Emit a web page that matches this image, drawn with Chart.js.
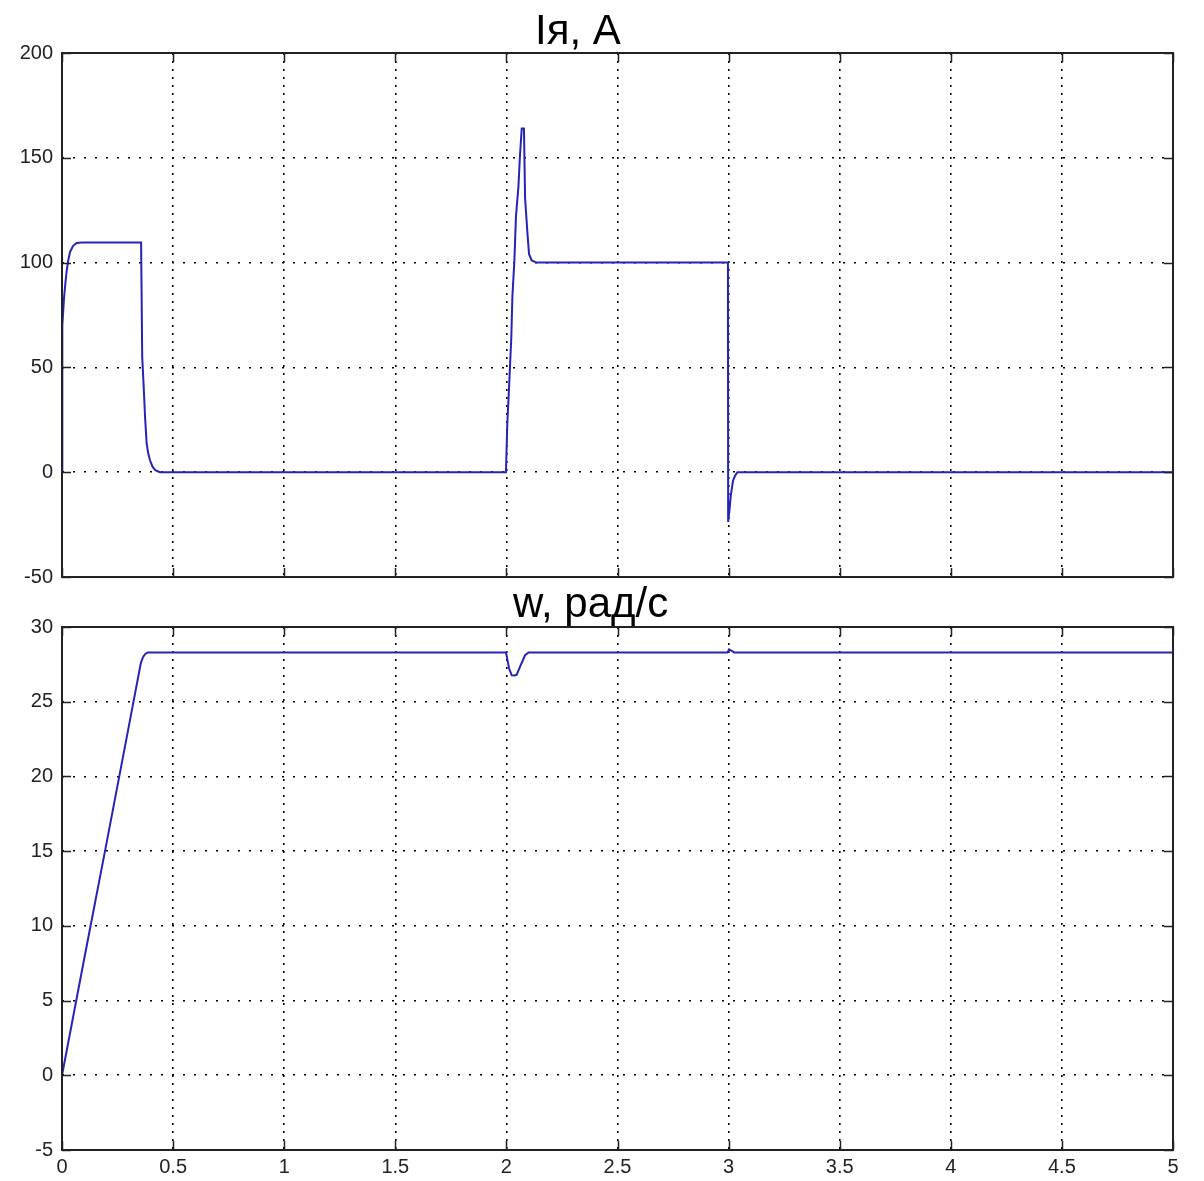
<!DOCTYPE html>
<html>
<head>
<meta charset="utf-8">
<script src="https://cdn.jsdelivr.net/npm/chart.js@4.4.0/dist/chart.umd.min.js"></script>
<style>
  body { margin: 0; background: #fff; }
  canvas { position: absolute; left: 0; top: 0; }
</style>
</head>
<body>
<canvas id="cur" width="1204" height="1181"></canvas>
<canvas id="spd" width="1204" height="1181"></canvas>
<script>
// armature current Iя, A
const timeI = [0, 0, 0.003, 0.009, 0.015, 0.021, 0.028, 0.036, 0.05, 0.066, 0.09, 0.356,
  0.361, 0.368, 0.374, 0.381, 0.388, 0.396, 0.408, 0.42, 0.44,
  1.998, 2.004, 2.01, 2.016, 2.022, 2.027, 2.036, 2.043, 2.054, 2.061, 2.069, 2.079,
  2.084, 2.094, 2.102, 2.114, 2.136, 2.997, 2.998, 3.004, 3.01, 3.02, 3.03, 3.04, 5];
const currentI = [0, 55, 70, 83, 90, 96, 101, 105, 108, 109.4, 109.6, 109.6,
  55, 40, 26, 13.7, 9, 5.7, 2.5, 1, 0,
  0, 23, 36, 50, 64, 84, 101, 122, 136, 151, 164, 164,
  131, 115, 104, 101, 100, 100, -23.7, -18, -11, -4, -1.5, 0, 0];

// speed w, рад/с
const timeW = [0, 0.05, 0.1, 0.2, 0.3, 0.355, 0.365, 0.375, 0.385, 1.998, 2.012, 2.024,
  2.035, 2.046, 2.061, 2.084, 2.1, 2.995, 3.002, 3.014, 3.025, 5];
const speedW = [0, 3.9, 7.8, 15.5, 23.3, 27.6, 28.0, 28.2, 28.3, 28.3, 27.24, 26.77,
  26.75, 26.8, 27.33, 28.11, 28.3, 28.3, 28.5, 28.4, 28.3, 28.3];

const xTicks = [0, 0.5, 1, 1.5, 2, 2.5, 3, 3.5, 4, 4.5, 5];
const iTicks = [-50, 0, 50, 100, 150, 200];
const wTicks = [-5, 0, 5, 10, 15, 20, 25, 30];

const lineColor = '#2424b8';
const font = { family: "'Liberation Sans', Arial, sans-serif", size: 20 };

function pts(xs, ys) {
  return xs.map((x, i) => ({ x: x, y: ys[i] }));
}

// box, inward ticks and title, matlab style
const frame = {
  id: 'frame',
  afterDraw(chart, args, opts) {
    const ctx = chart.ctx;
    const a = chart.chartArea;
    const xs = chart.scales.x, ys = chart.scales.y;
    ctx.save();
    ctx.strokeStyle = '#222';
    ctx.lineWidth = 1.5;
    ctx.beginPath();
    xs.ticks.forEach(t => {
      const px = Math.round(xs.getPixelForValue(t.value)) + 0.5;
      ctx.moveTo(px, a.bottom); ctx.lineTo(px, a.bottom - 9);
      ctx.moveTo(px, a.top); ctx.lineTo(px, a.top + 9);
    });
    ys.ticks.forEach(t => {
      const py = Math.round(ys.getPixelForValue(t.value)) + 0.5;
      ctx.moveTo(a.left, py); ctx.lineTo(a.left + 9, py);
      ctx.moveTo(a.right, py); ctx.lineTo(a.right - 9, py);
    });
    ctx.stroke();
    ctx.lineWidth = 2;
    ctx.strokeRect(a.left, a.top, a.right - a.left, a.bottom - a.top);
    ctx.fillStyle = '#000';
    ctx.font = "42px 'Liberation Sans', Arial, sans-serif";
    ctx.textBaseline = 'alphabetic';
    ctx.fillText(opts.text, opts.x, opts.y);
    ctx.restore();
  }
};

function makeChart(id, xs, ys, yTicks, yMin, yMax, showX, pad, title) {
  return new Chart(document.getElementById(id), {
    type: 'line',
    data: {
      datasets: [{
        data: pts(xs, ys),
        borderColor: lineColor,
        borderWidth: 2,
        pointRadius: 0,
        tension: 0
      }]
    },
    options: {
      responsive: false,
      animation: false,
      layout: { padding: pad },
      plugins: {
        legend: { display: false },
        tooltip: { enabled: false },
        frame: title
      },
      scales: {
        x: {
          type: 'linear',
          min: 0, max: 5,
          afterBuildTicks: s => { s.ticks = xTicks.map(v => ({ value: v })); },
          afterFit: s => { s.height = showX ? 31 : 0; },
          ticks: { display: showX, font: font, color: '#222', padding: 5, maxRotation: 0,
                   callback: v => String(v) },
          grid: { color: '#000', lineWidth: 1.6, drawTicks: false },
          border: { display: false, dash: [2, 6] }
        },
        y: {
          type: 'linear',
          min: yMin, max: yMax,
          afterBuildTicks: s => { s.ticks = yTicks.map(v => ({ value: v })); },
          afterFit: s => { s.width = 62; },
          ticks: { font: font, color: '#222', padding: 9, callback: v => String(v) },
          grid: { color: '#000', lineWidth: 1.6, drawTicks: false },
          border: { display: false, dash: [2, 9] }
        }
      }
    },
    plugins: [frame]
  });
}

makeChart('cur', timeI, currentI, iTicks, -50, 200, false,
  { left: 0, right: 31, top: 53, bottom: 604 },
  { text: 'Iя, A', x: 535, y: 44 });

makeChart('spd', timeW, speedW, wTicks, -5, 30, true,
  { left: 0, right: 31, top: 627, bottom: 0 },
  { text: 'w, рад/с', x: 513, y: 617 });
</script>
</body>
</html>
